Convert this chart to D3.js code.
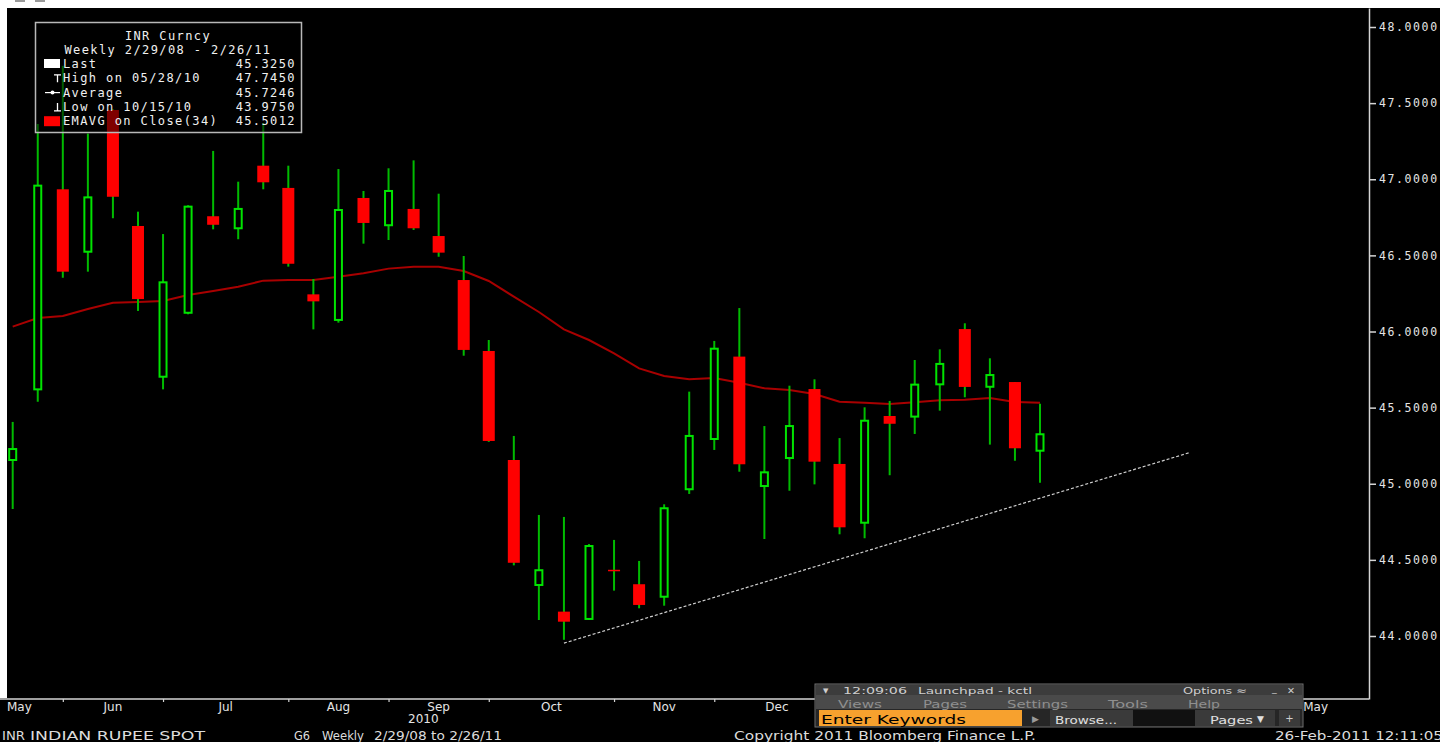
<!DOCTYPE html>
<html>
<head>
<meta charset="utf-8">
<script src="https://d3js.org/d3.v7.min.js"></script>
<style>
  body { margin: 0; background: #fff; overflow: hidden; }
  svg { display: block; }
</style>
</head>
<body>
<div id="chart"></div>
<script>
// Weekly INR spot candles, week ending (Friday)
const weekEnding = [
  "2010-05-14", "2010-05-21", "2010-05-28", "2010-06-04", "2010-06-11", "2010-06-18",
  "2010-06-25", "2010-07-02", "2010-07-09", "2010-07-16", "2010-07-23", "2010-07-30",
  "2010-08-06", "2010-08-13", "2010-08-20", "2010-08-27", "2010-09-03", "2010-09-10",
  "2010-09-17", "2010-09-24", "2010-10-01", "2010-10-08", "2010-10-15", "2010-10-22",
  "2010-10-29", "2010-11-05", "2010-11-12", "2010-11-19", "2010-11-26", "2010-12-03",
  "2010-12-10", "2010-12-17", "2010-12-24", "2010-12-31", "2011-01-07", "2011-01-14",
  "2011-01-21", "2011-01-28", "2011-02-04", "2011-02-11", "2011-02-18", "2011-02-25",
];
const openValues = [
  45.156, 45.620, 46.934, 46.524, 47.455, 46.693, 45.703, 46.123, 46.757, 46.678,
  47.089, 46.943, 46.244, 46.076, 46.877, 46.698, 46.805, 46.627, 46.338, 45.872,
  45.156, 44.335, 44.160, 44.112, 44.435, 44.340, 44.258, 44.964, 45.294, 45.835,
  44.985, 45.169, 45.622, 45.130, 44.744, 45.445, 45.441, 45.653, 46.016, 45.637,
  45.668, 45.217,
];
const highValues = [
  45.406, 47.363, 47.745, 47.300, 47.460, 46.787, 46.640, 46.829, 47.186, 46.984,
  47.369, 47.089, 46.345, 47.067, 46.923, 47.072, 47.124, 46.905, 46.496, 45.944,
  45.314, 44.795, 44.782, 44.604, 44.631, 44.493, 44.865, 45.605, 45.938, 46.154,
  45.379, 45.644, 45.686, 45.300, 45.502, 45.544, 45.813, 45.883, 46.054, 45.824,
  45.668, 45.526,
];
const lowValues = [
  44.834, 45.539, 46.353, 46.393, 46.744, 46.135, 45.620, 46.113, 46.671, 46.606,
  46.934, 46.426, 46.014, 46.058, 46.577, 46.601, 46.667, 46.491, 45.841, 45.275,
  44.464, 44.105, 43.975, 44.105, 44.298, 44.182, 44.199, 44.933, 45.222, 45.079,
  44.637, 44.954, 44.996, 44.668, 44.642, 45.056, 45.327, 45.480, 45.568, 45.257,
  45.151, 45.007,
];
const closeValues = [
  45.228, 46.958, 46.393, 46.881, 46.885, 46.213, 46.323, 46.820, 46.701, 46.805,
  46.980, 46.445, 46.198, 46.798, 46.713, 46.923, 46.678, 46.518, 45.879, 45.281,
  44.481, 44.432, 44.094, 44.591, 44.428, 44.204, 44.839, 45.314, 45.887, 45.128,
  45.075, 45.379, 45.145, 44.714, 45.414, 45.394, 45.651, 45.787, 45.636, 45.714,
  45.233, 45.325,
];
// EMAVG on Close(34)
const emaValues = [
  46.032, 46.089, 46.102, 46.148, 46.189, 46.194, 46.200, 46.240, 46.266, 46.294,
  46.334, 46.338, 46.338, 46.360, 46.382, 46.413, 46.426, 46.426, 46.397, 46.332,
  46.229, 46.128, 46.014, 45.944, 45.857, 45.758, 45.708, 45.686, 45.695, 45.664,
  45.627, 45.616, 45.590, 45.539, 45.532, 45.524, 45.535, 45.548, 45.552, 45.563,
  45.537, 45.532,
];
// hand drawn support line
const trendDates = ["2010-10-15", "2011-04-08"];
const trendValues = [43.953, 45.206];

const priceTicks = [44.0, 44.5, 45.0, 45.5, 46.0, 46.5, 47.0, 47.5, 48.0];
// last weekly bar of each month (axis tick marks)
const monthEnds = [
  "2010-04-30", "2010-05-28", "2010-06-25", "2010-07-30", "2010-08-27", "2010-09-24",
  "2010-10-29", "2010-11-26", "2010-12-31", "2011-01-28", "2011-02-25", "2011-03-25",
  "2011-04-29", "2011-05-27",
];
const monthLabels = ["May", "Jun", "Jul", "Aug", "Sep", "Oct", "Nov", "Dec", "Jan", "Feb", "Mar", "Apr", "May"];
const yearLabels = ["2010", "2011"];
const yearBreaks = ["2010-12-31"];

const legendTitle = ["INR Curncy", "Weekly 2/29/08 - 2/26/11"];
const legendLabels = ["Last", "High on 05/28/10", "Average", "Low on 10/15/10", "EMAVG on Close(34)"];
const legendValues = ["45.3250", "47.7450", "45.7246", "43.9750", "45.5012"];

const parseDay = d3.utcParse("%Y-%m-%d");

class CandleChart {
  constructor() {
    this.colors = {
      page: "#fff",
      background: "#000",
      axis: "#d4d4d4",
      text: "#e4e4e4",
      wick: "#00bb00",
      upBody: "#00e400",
      downBody: "#ff0000",
      ema: "#a80000",
      trend: "#cfcfcf",
      legendBorder: "#b8b8b8",
    };

    this.options = {
      width: 1440,
      height: 742,
      left: 7,
      top: 8,
      right: 1369,
      bottom: 699,
      firstBarX: 12.7,
      lastBarX: 1040,
      upWidth: 7,
      downWidth: 12,
      mono: "'DejaVu Sans Mono', monospace",
      sans: "'DejaVu Sans', sans-serif",
    };
  }

  draw() {
    this.candles = weekEnding.map((d, i) => ({
      date: parseDay(d),
      open: openValues[i],
      high: highValues[i],
      low: lowValues[i],
      close: closeValues[i],
      ema: emaValues[i],
    }));

    const svg = this._createSVG();
    this._createScales();
    this._drawFrame(svg);

    const plot = svg.append("g").attr("clip-path", "url(#plotClip)");
    this._drawEma(plot);
    this._drawCandles(plot);
    this._drawTrend(plot);

    this._drawAxes(svg);
    this._drawLegend(svg);
    this._drawFooter(svg);
    this._drawLaunchpad(svg);
  }

  _createSVG() {
    const o = this.options;
    const svg = d3
      .select("#chart")
      .append("svg")
      .attr("width", o.width)
      .attr("height", o.height);

    svg
      .append("clipPath")
      .attr("id", "plotClip")
      .append("rect")
      .attr("x", o.left)
      .attr("y", o.top)
      .attr("width", o.right - o.left)
      .attr("height", o.bottom - o.top);
    return svg;
  }

  _createScales() {
    const o = this.options;
    // anchor on the first and last bar, then stretch to the plot edges
    const x = d3
      .scaleUtc()
      .domain([this.candles[0].date, this.candles[this.candles.length - 1].date])
      .range([o.firstBarX, o.lastBarX]);
    x.domain([x.invert(o.left), x.invert(o.right)]).range([o.left, o.right]);

    const y = d3.scaleLinear().domain([44, 48]).range([636, 27]);
    y.domain([y.invert(o.bottom), y.invert(o.top)]).range([o.bottom, o.top]);

    this.x = x;
    this.y = y;
  }

  _drawFrame(svg) {
    const o = this.options;
    svg.append("rect").attr("width", o.width).attr("height", o.height).attr("fill", this.colors.page);
    svg
      .append("rect")
      .attr("x", o.left)
      .attr("y", o.top)
      .attr("width", o.width - o.left)
      .attr("height", o.height - o.top)
      .attr("fill", this.colors.background);
    svg
      .append("rect")
      .attr("x", 0)
      .attr("y", o.bottom - 1)
      .attr("width", o.left)
      .attr("height", o.height - o.bottom + 1)
      .attr("fill", this.colors.background);
    // bits of toolbar icons above the chart
    svg.append("rect").attr("x", 15).attr("y", 0).attr("width", 10).attr("height", 2).attr("fill", "#9a9a9a");
    svg.append("rect").attr("x", 35).attr("y", 0).attr("width", 10).attr("height", 2).attr("fill", "#9a9a9a");
  }

  _drawEma(plot) {
    const line = d3
      .line()
      .x((d) => this.x(d.date))
      .y((d) => this.y(d.ema));

    plot
      .append("path")
      .datum(this.candles)
      .attr("fill", "none")
      .attr("stroke", this.colors.ema)
      .attr("stroke-width", 2)
      .attr("d", line);
  }

  _drawCandles(plot) {
    const that = this;
    const o = this.options;

    const g = plot
      .append("g")
      .selectAll("g")
      .data(this.candles)
      .join("g")
      .attr("transform", (d) => `translate(${that.x(d.date)},0)`);

    g.append("line")
      .attr("y1", (d) => that.y(d.high))
      .attr("y2", (d) => that.y(d.low))
      .attr("stroke", this.colors.wick)
      .attr("stroke-width", 2);

    // hollow green = close above open, solid red = close below open
    g.filter((d) => d.close >= d.open)
      .append("rect")
      .attr("x", -o.upWidth / 2)
      .attr("width", o.upWidth)
      .attr("y", (d) => that.y(d.close))
      .attr("height", (d) => Math.max(1, that.y(d.open) - that.y(d.close)))
      .attr("fill", this.colors.background)
      .attr("stroke", this.colors.upBody)
      .attr("stroke-width", 2);

    g.filter((d) => d.close < d.open)
      .append("rect")
      .attr("x", -o.downWidth / 2)
      .attr("width", o.downWidth)
      .attr("y", (d) => that.y(d.open))
      .attr("height", (d) => Math.max(1.5, that.y(d.close) - that.y(d.open)))
      .attr("fill", this.colors.downBody);
  }

  _drawTrend(plot) {
    const pts = trendDates.map((d, i) => [this.x(parseDay(d)), this.y(trendValues[i])]);
    plot
      .append("path")
      .attr("d", d3.line()(pts))
      .attr("stroke", this.colors.trend)
      .attr("stroke-width", 1.2)
      .attr("stroke-dasharray", "3,2")
      .attr("fill", "none");
  }

  _drawAxes(svg) {
    const o = this.options;
    const c = this.colors;

    const yAxis = svg
      .append("g")
      .attr("transform", `translate(${o.right},0)`)
      .call(
        d3
          .axisRight(this.y)
          .tickValues(priceTicks)
          .tickFormat(d3.format(".4f"))
          .tickSize(7)
          .tickSizeOuter(0)
          .tickPadding(3)
      );
    yAxis.select(".domain").attr("stroke", c.axis).attr("stroke-width", 1.5);
    yAxis.selectAll(".tick line").attr("stroke", c.axis).attr("stroke-width", 1.5);
    yAxis
      .selectAll(".tick text")
      .attr("fill", c.text)
      .attr("font-family", o.mono)
      .attr("font-size", 11.5)
      .attr("letter-spacing", 1.6);

    const ends = monthEnds.map(parseDay);
    const xAxis = svg
      .append("g")
      .attr("transform", `translate(0,${o.bottom})`)
      .call(
        d3
          .axisBottom(this.x)
          .tickValues(ends.filter((d) => this.x(d) > o.left && this.x(d) < o.right - 4))
          .tickFormat("")
          .tickSize(3)
          .tickSizeOuter(0)
      );
    xAxis.select(".domain").attr("stroke", c.axis).attr("stroke-width", 1.5)
      .attr("d", `M0,0H${o.right}`);
    xAxis.selectAll(".tick line").attr("stroke", c.axis).attr("stroke-width", 1.2);

    // month names sit halfway between month-end ticks
    const labels = svg
      .append("g")
      .attr("font-family", o.sans)
      .attr("font-size", 12)
      .attr("fill", c.text)
      .selectAll("text")
      .data(monthLabels)
      .join("text")
      .attr("x", (d, i) => (this.x(ends[i]) + this.x(ends[i + 1])) / 2)
      .attr("y", o.bottom + 12)
      .attr("text-anchor", "middle")
      .text((d) => d);
    labels.each(function () {
      const box = this.getBBox();
      if (box.x < o.left) d3.select(this).attr("text-anchor", "start").attr("x", o.left);
    });

    const breaks = [this.x.domain()[0], ...yearBreaks.map(parseDay), this.x.domain()[1]];
    svg
      .append("g")
      .attr("font-family", o.sans)
      .attr("font-size", 12)
      .attr("fill", c.text)
      .selectAll("text")
      .data(yearLabels)
      .join("text")
      .attr("x", (d, i) => (this.x(breaks[i]) + this.x(breaks[i + 1])) / 2)
      .attr("y", o.bottom + 24)
      .attr("text-anchor", "middle")
      .text((d) => d);
  }

  _drawLegend(svg) {
    const o = this.options;
    const g = svg.append("g").attr("font-family", o.mono).attr("font-size", 12).attr("letter-spacing", 1.4);

    g.append("rect")
      .attr("x", 35.5)
      .attr("y", 22.5)
      .attr("width", 266)
      .attr("height", 110)
      .attr("fill", "rgba(0,0,0,0.5)")
      .attr("stroke", this.colors.legendBorder)
      .attr("stroke-width", 1.5);

    g.selectAll("text.title")
      .data(legendTitle)
      .join("text")
      .attr("class", "title")
      .attr("x", 168)
      .attr("y", (d, i) => 39.5 + i * 14.5)
      .attr("text-anchor", "middle")
      .attr("fill", "#f0f0f0")
      .text((d) => d);

    const rowY = (i) => 68 + i * 14.3;

    g.selectAll("text.label")
      .data(legendLabels)
      .join("text")
      .attr("class", "label")
      .attr("x", 63)
      .attr("y", (d, i) => rowY(i))
      .attr("fill", "#f0f0f0")
      .text((d) => d);

    g.selectAll("text.value")
      .data(legendValues)
      .join("text")
      .attr("class", "value")
      .attr("x", 296)
      .attr("y", (d, i) => rowY(i))
      .attr("text-anchor", "end")
      .attr("fill", "#f0f0f0")
      .text((d) => d);

    // row markers
    g.append("rect").attr("x", 44).attr("y", 59).attr("width", 16).attr("height", 9).attr("fill", "#fff");
    const hi = rowY(1);
    g.append("path").attr("d", `M54,${hi - 7.5}H61M57.5,${hi - 7.5}V${hi}`).attr("stroke", "#fff").attr("stroke-width", 1.3);
    const av = rowY(2) - 4;
    g.append("path").attr("d", `M45,${av}H60`).attr("stroke", "#fff").attr("stroke-width", 1.2);
    g.append("circle").attr("cx", 52.5).attr("cy", av).attr("r", 2).attr("fill", "#fff");
    const lo = rowY(3);
    g.append("path").attr("d", `M57.5,${lo - 8}V${lo}M54,${lo}H61`).attr("stroke", "#fff").attr("stroke-width", 1.3);
    g.append("rect").attr("x", 44).attr("y", rowY(4) - 9).attr("width", 16).attr("height", 10).attr("fill", this.colors.downBody);
  }

  // the screenshot is stretched sideways, so glyphs get widened to the measured width
  _wideText(g, x, y, text, width, size) {
    return g
      .append("text")
      .attr("x", x)
      .attr("y", y)
      .attr("font-size", size)
      .attr("textLength", width)
      .attr("lengthAdjust", "spacingAndGlyphs")
      .text(text);
  }

  _drawFooter(svg) {
    const o = this.options;
    const g = svg.append("g").attr("font-family", o.sans).attr("fill", "#dcdcdc");
    this._wideText(g, 2, 740, "INR", 23, 11.5);
    this._wideText(g, 30, 740, "INDIAN RUPEE SPOT", 175, 11.5);
    this._wideText(g, 294, 740, "G6", 16, 11.5);
    this._wideText(g, 322, 740, "Weekly", 42, 11.5);
    this._wideText(g, 374, 740, "2/29/08 to 2/26/11", 128, 11.5);
    this._wideText(g, 734, 740, "Copyright 2011 Bloomberg Finance L.P.", 302, 11.5);
    this._wideText(g, 1275, 740, "26-Feb-2011 12:11:05", 168, 11.5);
  }

  _drawLaunchpad(svg) {
    const o = this.options;
    const g = svg.append("g").attr("font-family", o.sans);

    g.append("rect").attr("x", 815).attr("y", 684).attr("width", 488).attr("height", 43).attr("fill", "#1e1e1e").attr("stroke", "#707070");
    g.append("rect").attr("x", 816).attr("y", 685).attr("width", 486).attr("height", 10).attr("fill", "#3c3c3c");
    g.append("rect").attr("x", 816).attr("y", 695).attr("width", 486).attr("height", 14).attr("fill", "#4a4a4a");
    g.append("rect").attr("x", 816).attr("y", 709).attr("width", 486).attr("height", 17).attr("fill", "#262626");

    const title = g.append("g").attr("fill", "#cfcfcf");
    title.append("text").attr("x", 823).attr("y", 693).attr("font-size", 7).text("\u25BC");
    this._wideText(title, 843, 693.5, "12:09:06", 64, 9.5);
    this._wideText(title, 918, 693.5, "Launchpad - kctl", 114, 9.5);
    this._wideText(title, 1183, 693.5, "Options \u2248", 64, 9.5);
    title.append("text").attr("x", 1272).attr("y", 692).attr("font-size", 9.5).text("_");
    title.append("text").attr("x", 1287).attr("y", 693.5).attr("font-size", 9.5).text("\u2715");

    const menu = g.append("g").attr("fill", "#8f8f8f");
    this._wideText(menu, 838, 707.5, "Views", 44, 10);
    this._wideText(menu, 923, 707.5, "Pages", 44, 10);
    this._wideText(menu, 1007, 707.5, "Settings", 61, 10);
    this._wideText(menu, 1108, 707.5, "Tools", 40, 10);
    this._wideText(menu, 1188, 707.5, "Help", 32, 10);

    g.append("rect").attr("x", 819).attr("y", 710).attr("width", 203).attr("height", 16).attr("fill", "#f7a12e");
    this._wideText(g, 821, 723.5, "Enter Keywords", 145, 12.5).attr("fill", "#000");

    g.append("text").attr("x", 1032).attr("y", 721.5).attr("font-size", 9).attr("fill", "#9a9a9a").text("\u25B6");
    g.append("rect").attr("x", 1050).attr("y", 710).attr("width", 83).attr("height", 16).attr("fill", "#3a3a3a");
    this._wideText(g, 1055, 723.5, "Browse...", 62, 11).attr("fill", "#e0e0e0");
    g.append("rect").attr("x", 1133).attr("y", 710).attr("width", 62).attr("height", 16).attr("fill", "#111");

    g.append("rect").attr("x", 1195).attr("y", 710).attr("width", 80).attr("height", 16).attr("fill", "#3a3a3a");
    this._wideText(g, 1210, 723.5, "Pages", 43, 11).attr("fill", "#e0e0e0");
    g.append("text").attr("x", 1257).attr("y", 721.5).attr("font-size", 9).attr("fill", "#e0e0e0").text("\u25BC");
    g.append("rect").attr("x", 1279).attr("y", 710).attr("width", 21).attr("height", 16).attr("fill", "#3a3a3a");
    g.append("text").attr("x", 1289.5).attr("y", 721.5).attr("font-size", 10).attr("text-anchor", "middle").attr("fill", "#cfcfcf").text("+");
  }
}

new CandleChart().draw();
</script>
</body>
</html>
